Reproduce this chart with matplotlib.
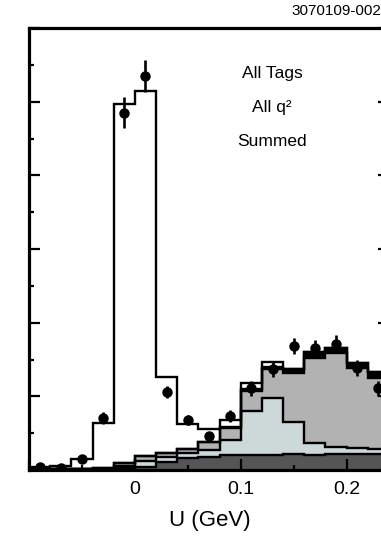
import matplotlib
matplotlib.use("Agg")
import matplotlib.pyplot as plt
import numpy as np
from matplotlib.ticker import MultipleLocator

plt.rcParams['font.family'] = ['Liberation Sans', 'DejaVu Sans']

# U bins, 20 MeV wide
edges = np.round(np.arange(-0.10, 0.2401, 0.02), 2)
centers = 0.5 * (edges[:-1] + edges[1:])

# stacked MC components, bottom to top
bkg_dark = [1, 1, 1, 1, 3, 4, 11, 16, 18, 20, 20, 20, 22, 20, 22, 22, 22]
bkg_light = [0, 0, 0, 1, 2, 8, 7, 7, 9, 21, 60, 78, 43, 17, 9, 8, 7]
bkg_gray = [0, 0, 1, 1, 4, 7, 5, 6, 11, 16, 27, 39, 67, 115, 128, 109, 96]
bkg_black = [0, 0, 0, 0, 0, 0, 0, 0, 0, 1, 3, 3, 5, 8, 7, 6, 8]
signal = [3, 5, 13, 61, 488, 495, 103, 34, 17, 10, 8, 7, 0, 0, 0, 0, 0]

# data
data = [4, 3, 15, 71, 485, 535, 106, 68, 46, 73, 111, 137, 168, 166, 171, 139, 111]
data_err = [2, 2, 4, 8, 21, 22, 8, 7, 6, 8, 10, 11, 11, 11, 12, 11, 10]

layers = [(bkg_dark, '#555555'), (bkg_light, '#cdd8d8'), (bkg_gray, '#b2b2b2'),
          (bkg_black, 'black'), (signal, 'white')]

fig = plt.figure(figsize=(3.81, 5.39), dpi=100)
ax = fig.add_axes([29 / 381, 69 / 539, 360 / 381, 442 / 539])

base = np.zeros(len(centers))
for vals, col in layers:
    top = base + np.array(vals)
    ax.stairs(top, edges, baseline=base, fill=True, color=col, lw=0)
    base = top

base = np.zeros(len(centers))
for vals, col in layers:
    base = base + np.array(vals)
    ax.stairs(base, edges, baseline=None, color='black', lw=1.7)

ax.errorbar(centers, data, yerr=data_err, fmt='o', color='black', ms=6.5,
            elinewidth=1.9, capsize=0, zorder=5)

ax.set_xlim(-0.1, 0.24)
ax.set_ylim(0, 600)

for s in ax.spines.values():
    s.set_linewidth(2.3)
    s.set_zorder(6)

ax.set_xticks([-0.1, 0, 0.1, 0.2])
ax.set_xticklabels(['', '0', '0.1', '0.2'])
ax.xaxis.set_minor_locator(MultipleLocator(0.05))
ax.yaxis.set_major_locator(MultipleLocator(100))
ax.yaxis.set_minor_locator(MultipleLocator(50))
ax.tick_params(which='major', direction='in', length=8, width=1.6)
ax.tick_params(which='minor', direction='in', length=3.6, width=1.6)
ax.tick_params(axis='x', which='both', top=False, labelsize=14, pad=8)
ax.tick_params(axis='y', which='major', left=True, right=True, labelleft=False)
ax.tick_params(axis='y', which='minor', left=True, right=False)

fig.text(210 / 381, 1 - 510 / 539, 'U (GeV)', ha='center', va='top', fontsize=16)
fig.text(381 / 381, 1 - 15 / 539, '3070109-002', ha='right', va='baseline', fontsize=11)

ax.text(272 / 381, 1 - 78 / 539, 'All Tags', transform=fig.transFigure,
        ha='center', va='baseline', fontsize=12.5)
ax.text(272 / 381, 1 - 112 / 539, 'All q²', transform=fig.transFigure,
        ha='center', va='baseline', fontsize=12.5)
ax.text(272 / 381, 1 - 146 / 539, 'Summed', transform=fig.transFigure,
        ha='center', va='baseline', fontsize=12.5)

fig.savefig('out.png', dpi=100)
